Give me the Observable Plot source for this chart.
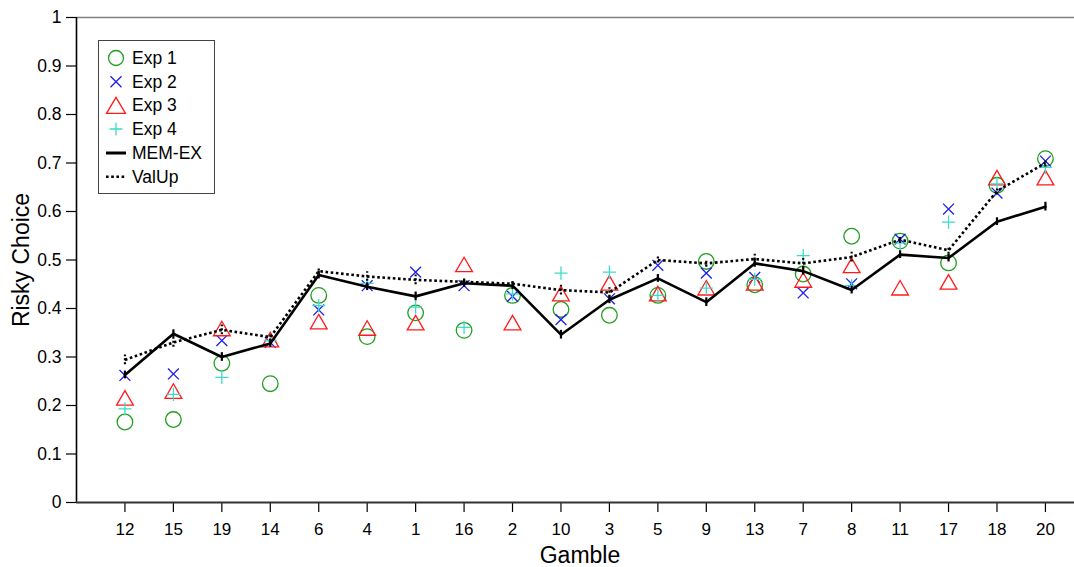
<!DOCTYPE html>
<html><head><meta charset="utf-8">
<script src="https://cdn.jsdelivr.net/npm/d3@7"></script>
<script src="https://cdn.jsdelivr.net/npm/@observablehq/plot@0.6"></script>
<style>
body{margin:0;background:#fff;}
#chart svg{display:block;}
</style>
</head><body><div id="chart"></div>
<script>
const gambles = [12,15,19,14,6,4,1,16,2,10,3,5,9,13,7,8,11,17,18,20];
const exp1 = [0.166,0.171,0.287,0.245,0.427,0.342,0.391,0.355,0.427,0.398,0.386,0.427,0.497,0.449,0.471,0.549,0.539,0.494,0.654,0.709];
const exp2 = [0.262,0.265,0.334,0.330,0.397,0.447,0.475,0.447,0.425,0.377,0.420,0.489,0.473,0.464,0.432,0.451,0.543,0.605,0.638,0.704];
const exp3 = [0.217,0.231,0.360,0.337,0.374,0.361,0.372,0.492,0.372,0.432,0.454,0.432,0.444,0.454,0.460,0.490,0.444,0.456,0.671,0.671];
const exp4 = [0.193,0.223,0.258,0.334,0.406,0.452,0.403,0.361,0.430,0.473,0.475,0.427,0.442,0.460,0.509,0.447,0.535,0.578,0.657,0.691];
const memex = [0.263,0.348,0.300,0.328,0.469,0.445,0.425,0.452,0.447,0.346,0.418,0.462,0.413,0.493,0.477,0.438,0.511,0.504,0.579,0.610];
const memexErr = [0.008,0.008,0.009,0.008,0.008,0.008,0.009,0.008,0.008,0.009,0.008,0.008,0.009,0.008,0.008,0.008,0.008,0.008,0.008,0.009];
const valup = [0.294,0.330,0.356,0.341,0.477,0.466,0.459,0.455,0.451,0.438,0.433,0.500,0.493,0.502,0.493,0.506,0.542,0.520,0.642,0.700];
const valupErr = [0.010,0.010,0.010,0.008,0.008,0.010,0.010,0.006,0.008,0.010,0.010,0.006,0.008,0.010,0.010,0.010,0.008,0.008,0.008,0.008];
const yTicks = [0,0.1,0.2,0.3,0.4,0.5,0.6,0.7,0.8,0.9,1];
const seriesNames = ["Exp 1","Exp 2","Exp 3","Exp 4","MEM-EX","ValUp"];
const colors = {exp1:"#1f9e1f", exp2:"#1c1cf0", exp3:"#ff1a1a", exp4:"#3ddcc8"};

const idx = gambles.map((g,i)=>i);
const rows = (vals, errs) => vals.map((v,i)=>({i, v, e: errs ? errs[i] : 0}));
const FONT = "'Liberation Sans', Arial, Helvetica, sans-serif";

const plot = Plot.plot({
  width:1074, height:567,
  marginLeft:76, marginRight:0, marginTop:17, marginBottom:65,
  style:{fontFamily:FONT, fontSize:"17px", color:"#000", background:"#fff", overflow:"visible"},
  x:{type:"linear", domain:[-1,19.6]},
  y:{domain:[0,1]},
  marks:[
    Plot.ruleY([1], {stroke:"#808080", strokeWidth:1.5}),
    Plot.axisY({ticks:yTicks, tickSize:10, tickPadding:5, tickFormat:d=>String(+d.toFixed(1)), label:null, stroke:"#000", strokeWidth:1.2, fontSize:17.5}),
    Plot.axisX({ticks:idx, tickFormat:i=>String(gambles[i]), tickSize:10, tickPadding:10, label:null, stroke:"#000", strokeWidth:1.2, fontSize:17}),
    Plot.dot(rows(exp1), {x:"i", y:"v", symbol:"circle", r:7.8, stroke:colors.exp1, strokeWidth:1.3, fill:"none"}),
    Plot.dot(rows(exp2), {x:"i", y:"v", symbol:"times", r:5, stroke:colors.exp2, strokeWidth:1.3, fill:"none"}),
    Plot.dot(rows(exp3), {x:"i", y:"v", symbol:"triangle2", r:8, dy:3, stroke:colors.exp3, strokeWidth:1.3, fill:"none"}),
    Plot.dot(rows(exp4), {x:"i", y:"v", symbol:"plus", r:4.3, stroke:colors.exp4, strokeWidth:1.3, fill:"none"}),
    Plot.line(rows(valup), {x:"i", y:"v", stroke:"#000", strokeWidth:2.6, strokeDasharray:"2.6,2.6", strokeLinecap:"butt", strokeLinejoin:"miter"}),
    Plot.ruleX(rows(valup, valupErr), {x:"i", y1:d=>d.v-d.e, y2:d=>d.v+d.e, stroke:"#000", strokeWidth:2.2, strokeDasharray:"2,2", strokeLinecap:"butt"}),
    Plot.line(rows(memex), {x:"i", y:"v", stroke:"#000", strokeWidth:2.6}),
    Plot.ruleX(rows(memex, memexErr), {x:"i", y1:d=>d.v-d.e, y2:d=>d.v+d.e, stroke:"#000", strokeWidth:2.2}),
    Plot.ruleX([-1], {stroke:"#000", strokeWidth:1.6}),
    Plot.ruleY([0], {stroke:"#333", strokeWidth:2})
  ]
});
document.getElementById("chart").appendChild(plot);

const svg = d3.select(plot);
// axis titles
svg.append("text").attr("x",580).attr("y",555).attr("text-anchor","middle").attr("dominant-baseline","central")
  .attr("font-family",FONT).attr("font-size",23).attr("fill","#000").text("Gamble");
svg.append("text").attr("transform","translate(21,260) rotate(-90)").attr("text-anchor","middle").attr("dominant-baseline","central")
  .attr("font-family",FONT).attr("font-size",23).attr("fill","#000").text("Risky Choice");

// legend
const lg = svg.append("g").attr("text-anchor","start");
lg.append("rect").attr("x",98.5).attr("y",40.5).attr("width",116).attr("height",153)
  .attr("fill","#fff").attr("stroke","#444").attr("stroke-width",1);
const ly = [58,81.7,105.3,129,153,176.7];
const sx = 116;
lg.append("circle").attr("cx",sx).attr("cy",ly[0]).attr("r",7.5).attr("fill","none").attr("stroke",colors.exp1).attr("stroke-width",1.3);
lg.append("path").attr("d",`M${sx-5.5},${ly[1]-5.5}L${sx+5.5},${ly[1]+5.5}M${sx-5.5},${ly[1]+5.5}L${sx+5.5},${ly[1]-5.5}`).attr("stroke",colors.exp2).attr("stroke-width",1.3);
lg.append("path").attr("d",`M${sx},${ly[2]-8}L${sx+9.5},${ly[2]+8}L${sx-9.5},${ly[2]+8}Z`).attr("fill","none").attr("stroke",colors.exp3).attr("stroke-width",1.3);
lg.append("path").attr("d",`M${sx-6.5},${ly[3]}L${sx+6.5},${ly[3]}M${sx},${ly[3]-6.5}L${sx},${ly[3]+6.5}`).attr("stroke",colors.exp4).attr("stroke-width",1.3);
lg.append("line").attr("x1",106).attr("x2",126).attr("y1",ly[4]).attr("y2",ly[4]).attr("stroke","#000").attr("stroke-width",3);
lg.append("line").attr("x1",106).attr("x2",126).attr("y1",ly[5]).attr("y2",ly[5]).attr("stroke","#000").attr("stroke-width",2.6).attr("stroke-dasharray","2.6,2.6");
seriesNames.forEach((n,k)=>{
  lg.append("text").attr("x",132).attr("y",ly[k]).attr("text-anchor","start").attr("dominant-baseline","central")
    .attr("font-family",FONT).attr("font-size",17.5).attr("fill","#000").text(n);
});
</script>
</body></html>
